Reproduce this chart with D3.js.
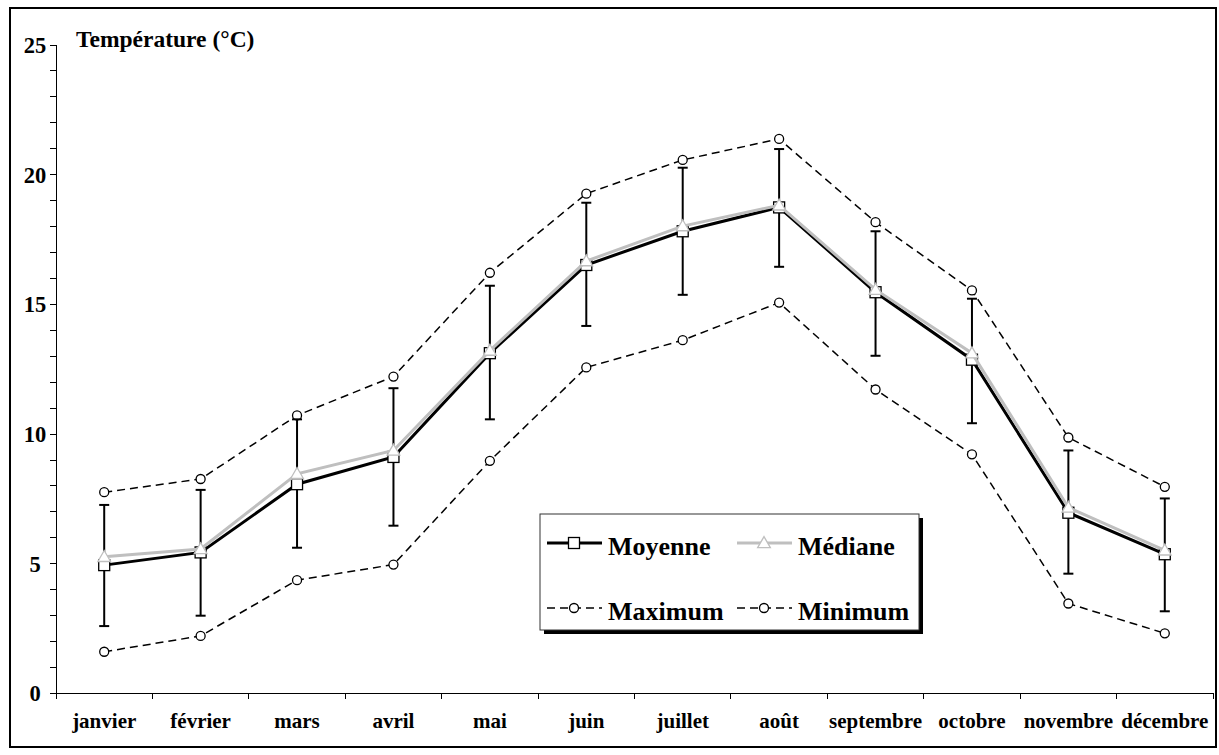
<html>
<head>
<meta charset="utf-8">
<script src="https://d3js.org/d3.v7.min.js"></script>
<style>
body { margin: 0; background: #fff; }
text { font-family: "Liberation Serif", "Times New Roman", serif; font-weight: bold; fill: #000; }
.axis path, .axis line { stroke: #000; shape-rendering: crispEdges; }
</style>
</head>
<body>
<svg width="1219" height="755"></svg>
<script>

// mois et valeurs
var mois = ["janvier", "février", "mars", "avril", "mai", "juin", "juillet", "août", "septembre", "octobre", "novembre", "décembre"];
var moyenne = [4.93, 5.42, 8.05, 9.1, 13.1, 16.5, 17.8, 18.72, 15.45, 12.85, 6.95, 5.35];
var mediane = [5.25, 5.55, 8.45, 9.35, 13.2, 16.65, 18.0, 18.8, 15.55, 13.1, 7.15, 5.5];
var maximum = [7.74, 8.25, 10.7, 12.2, 16.2, 19.25, 20.55, 21.36, 18.15, 15.52, 9.85, 7.95];
var minimum = [1.59, 2.2, 4.35, 4.95, 8.95, 12.55, 13.6, 15.05, 11.7, 9.2, 3.45, 2.3];
var ecartHaut = [7.25, 7.83, 10.55, 11.75, 15.7, 18.9, 20.25, 20.97, 17.8, 15.2, 9.35, 7.5];
var ecartBas = [2.58, 2.98, 5.6, 6.45, 10.55, 14.15, 15.35, 16.43, 13.0, 10.4, 4.6, 3.15];
var yTicks = [0, 5, 10, 15, 20, 25];

var svg = d3.select("svg");

// cadre
svg.append("rect")
    .attr("x", 10).attr("y", 8)
    .attr("width", 1206).attr("height", 739)
    .attr("fill", "none").attr("stroke", "#000").attr("stroke-width", 2);

var x = d3.scaleBand().domain(mois).range([56, 1213]),
    y = d3.scaleLinear().domain([0, 25]).range([693, 44.5]);

function cx(d, i) { return x(mois[i]) + x.bandwidth() / 2; }

// axe Y
var yAxis = d3.axisLeft(y)
    .tickValues(d3.range(0, 26))
    .tickSize(6)
    .tickSizeOuter(0)
    .tickFormat(function(d) { return yTicks.indexOf(d) >= 0 ? d : ""; });

var gy = svg.append("g")
    .attr("class", "axis")
    .attr("transform", "translate(56,0)")
    .call(yAxis);
gy.select(".domain").attr("stroke-width", 1.5);
gy.selectAll("text")
    .attr("x", -21)
    .attr("dy", "0.35em")
    .attr("text-anchor", "middle")
    .style("font-size", "22.5px");

// axe X
var gx = svg.append("g")
    .attr("class", "axis")
    .attr("transform", "translate(0,693)")
    .call(d3.axisBottom(x).tickSize(0).tickSizeOuter(0));
gx.select(".domain").attr("stroke", "#444").attr("stroke-width", 1.5);
gx.selectAll("text")
    .attr("y", 35)
    .attr("dy", 0)
    .style("font-size", "21px");
gx.selectAll(".bord")
    .data(mois.concat(["fin"]))
  .enter().append("line")
    .attr("x1", function(d) { return d === "fin" ? x.range()[1] : x(d); })
    .attr("x2", function(d) { return d === "fin" ? x.range()[1] : x(d); })
    .attr("y1", 0).attr("y2", 6)
    .attr("stroke", "#000");

// titre de l'axe
svg.append("text")
    .attr("x", 76).attr("y", 47)
    .style("font-size", "23.5px")
    .text("Température (°C)");

var ligne = d3.line().x(cx).y(function(d) { return y(d); });

// maximum et minimum (tirets)
[maximum, minimum].forEach(function(serie) {
  svg.append("path")
      .datum(serie)
      .attr("d", ligne)
      .attr("fill", "none")
      .attr("stroke", "#000")
      .attr("stroke-width", 1.5)
      .attr("stroke-dasharray", "8,5");
  svg.selectAll(null)
      .data(serie)
    .enter().append("circle")
      .attr("cx", cx)
      .attr("cy", function(d) { return y(d); })
      .attr("r", 4.5)
      .attr("fill", "#fff")
      .attr("stroke", "#000")
      .attr("stroke-width", 1.3);
});

// barres d'erreur
var eb = svg.append("g").attr("stroke", "#000").attr("stroke-width", 2);
mois.forEach(function(m, i) {
  var px = cx(null, i);
  eb.append("line").attr("x1", px).attr("x2", px).attr("y1", y(ecartHaut[i])).attr("y2", y(ecartBas[i]));
  eb.append("line").attr("x1", px - 5).attr("x2", px + 5).attr("y1", y(ecartHaut[i])).attr("y2", y(ecartHaut[i]));
  eb.append("line").attr("x1", px - 5).attr("x2", px + 5).attr("y1", y(ecartBas[i])).attr("y2", y(ecartBas[i]));
});

// moyenne
svg.append("path")
    .datum(moyenne)
    .attr("d", ligne)
    .attr("fill", "none")
    .attr("stroke", "#000")
    .attr("stroke-width", 3);
svg.selectAll(".carre")
    .data(moyenne)
  .enter().append("rect")
    .attr("x", function(d, i) { return cx(d, i) - 5.5; })
    .attr("y", function(d) { return y(d) - 5.5; })
    .attr("width", 11).attr("height", 11)
    .attr("fill", "#fff")
    .attr("stroke", "#000")
    .attr("stroke-width", 1.3);

// médiane
var tri = d3.symbol().type(d3.symbolTriangle).size(70);
svg.append("path")
    .datum(mediane)
    .attr("d", ligne)
    .attr("fill", "none")
    .attr("stroke", "#bfbfbf")
    .attr("stroke-width", 3);
svg.selectAll(".tri")
    .data(mediane)
  .enter().append("path")
    .attr("d", tri)
    .attr("transform", function(d, i) { return "translate(" + cx(d, i) + "," + (y(d) + 1) + ")"; })
    .attr("fill", "#fff")
    .attr("stroke", "#bfbfbf")
    .attr("stroke-width", 1.3);

// légende
var lg = svg.append("g");
lg.append("rect").attr("x", 544).attr("y", 518).attr("width", 379).attr("height", 116).attr("fill", "#000");
lg.append("rect").attr("x", 540).attr("y", 514).attr("width", 379).attr("height", 116)
    .attr("fill", "#fff").attr("stroke", "#333").attr("stroke-width", 1);

var items = [
  {nom: "Moyenne", x: 547, y: 543, couleur: "#000", w: 3, dash: null, marque: "carre"},
  {nom: "Médiane", x: 737, y: 543, couleur: "#bfbfbf", w: 3, dash: null, marque: "tri"},
  {nom: "Maximum", x: 547, y: 608, couleur: "#000", w: 1.5, dash: "8,5", marque: "rond"},
  {nom: "Minimum", x: 737, y: 608, couleur: "#000", w: 1.5, dash: "8,5", marque: "rond"}
];
items.forEach(function(it) {
  lg.append("line")
      .attr("x1", it.x).attr("x2", it.x + 55)
      .attr("y1", it.y).attr("y2", it.y)
      .attr("stroke", it.couleur)
      .attr("stroke-width", it.w)
      .attr("stroke-dasharray", it.dash);
  var mx = it.x + 27;
  if (it.marque === "carre") {
    lg.append("rect").attr("x", mx - 5.5).attr("y", it.y - 5.5).attr("width", 11).attr("height", 11)
        .attr("fill", "#fff").attr("stroke", "#000").attr("stroke-width", 1.3);
  } else if (it.marque === "tri") {
    lg.append("path").attr("d", tri).attr("transform", "translate(" + mx + "," + (it.y + 1) + ")")
        .attr("fill", "#fff").attr("stroke", "#bfbfbf").attr("stroke-width", 1.3);
  } else {
    lg.append("circle").attr("cx", mx).attr("cy", it.y).attr("r", 4.5)
        .attr("fill", "#fff").attr("stroke", "#000").attr("stroke-width", 1.3);
  }
  lg.append("text")
      .attr("x", it.x + 61)
      .attr("y", it.y + 4)
      .attr("dy", "0.3em")
      .style("font-size", "26px")
      .text(it.nom);
});

</script>
</body>
</html>
